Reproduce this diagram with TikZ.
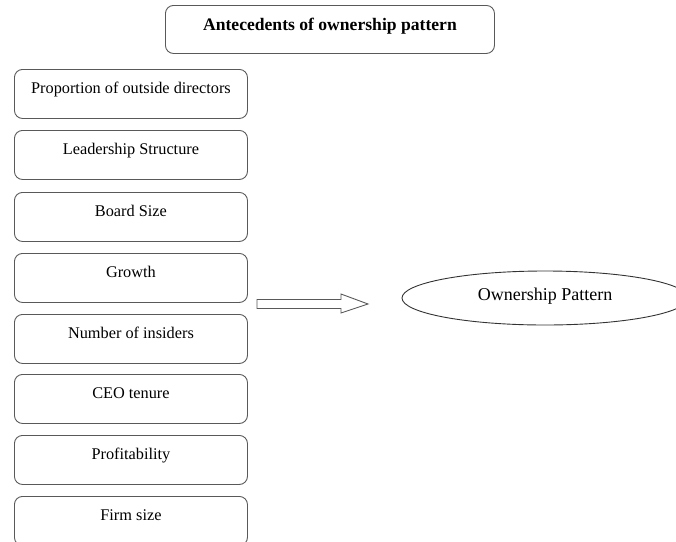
\documentclass[tikz,border=0pt]{standalone}
\usepackage{fontspec}
\setmainfont{Liberation Serif}
\usetikzlibrary{shapes.geometric}
\begin{document}
\begin{tikzpicture}[x=1pt,y=-1pt,
  factor/.style={draw=black!65, line width=0.9pt, rounded corners=8pt,
    minimum width=233pt, inner sep=0pt, text height=24pt, text depth=25pt,
    anchor=north west, font=\fontsize{16.3}{18}\selectfont},
  titlebox/.style={draw=black!65, line width=0.9pt, rounded corners=8pt,
    minimum width=329pt, inner sep=0pt, text height=25pt, text depth=23pt,
    anchor=north west, font=\fontsize{17.6}{19}\selectfont\bfseries},
  outcome/.style={draw=black!80, line width=0.9pt, ellipse, minimum width=286pt,
    minimum height=54pt, inner sep=0pt, text height=10pt, text depth=6pt,
    font=\fontsize{18}{20}\selectfont},
  blockarrow/.style={draw=black!65, line width=0.9pt, fill=white}]
\useasboundingbox (0,0) rectangle (676,541);
\clip (0,0) rectangle (676,541);
\node[titlebox] (title) at (165,5) {Antecedents of ownership pattern};
\node[factor] (f1) at (14,69) {Proportion of outside directors};
\node[factor] (f2) at (14,130) {Leadership Structure};
\node[factor] (f3) at (14,192) {Board Size};
\node[factor] (f4) at (14,253) {Growth};
\node[factor] (f5) at (14,314) {Number of insiders};
\node[factor] (f6) at (14,374) {CEO tenure};
\node[factor] (f7) at (14,435) {Profitability};
\node[factor] (f8) at (14,496) {Firm size};
\node[outcome] (own) at (545,298) {Ownership Pattern};
\coordinate (as) at (257,304);
\coordinate (at) at (368,304);
\draw[blockarrow] (as) ++(0,-4.5) -- (341,299.5) -- (341,294) -- (at) -- (341,313) -- (341,308.5) -- (257,308.5) -- cycle;
\end{tikzpicture}
\end{document}
